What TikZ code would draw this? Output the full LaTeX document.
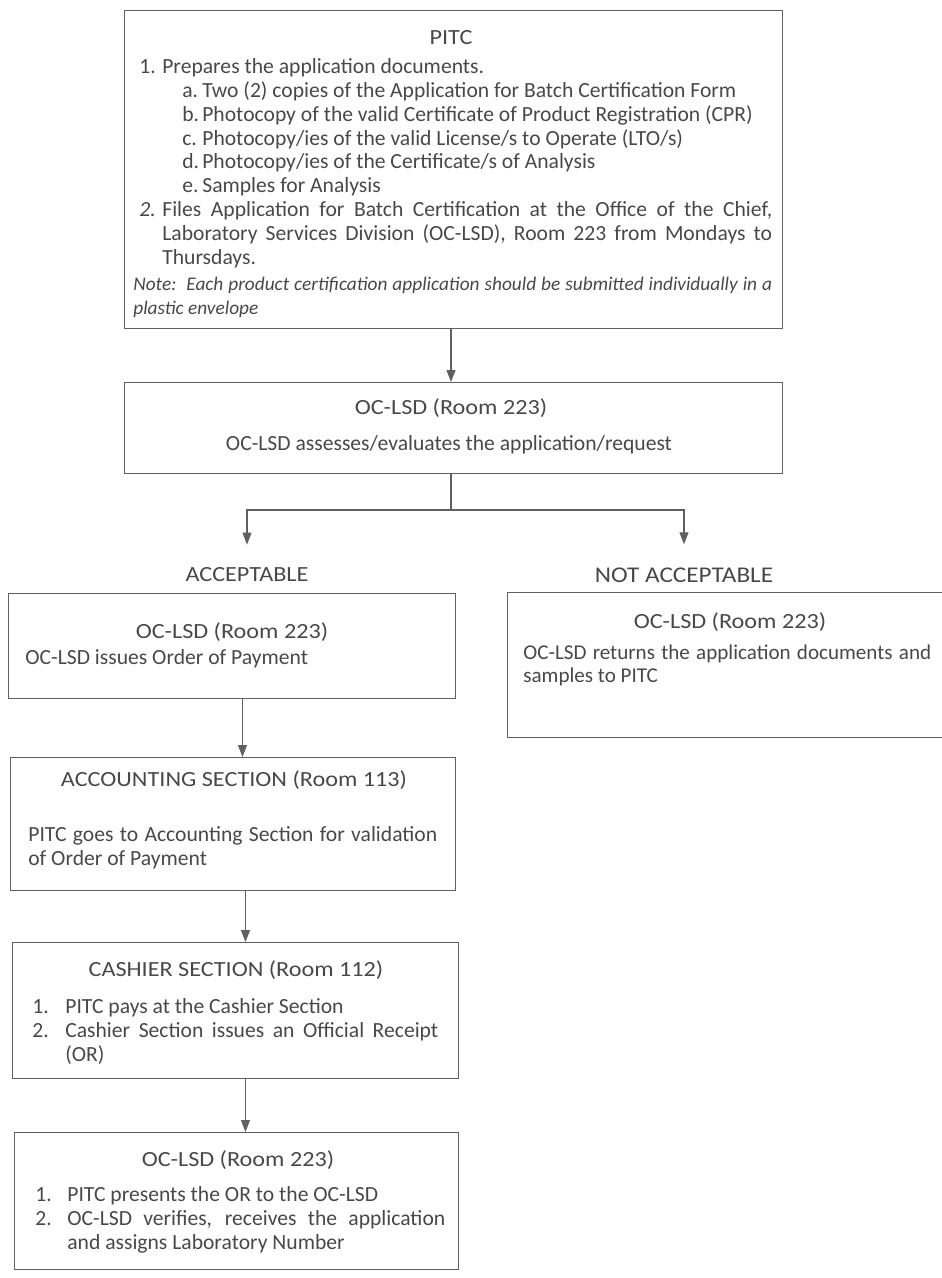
\documentclass[tikz,border=0pt]{standalone}
\usepackage{fontspec}
\setmainfont{Carlito}
\newfontfamily\wideface{Carlito}[FakeStretch=1.12]
\usetikzlibrary{arrows.meta,positioning}
\definecolor{boxline}{HTML}{606060}
\definecolor{inkgrey}{HTML}{484848}
\hyphenpenalty=10000
\exhyphenpenalty=10000
\newcommand{\flowfont}{\fontsize{12.3}{13.6}\selectfont}
% numbered line: left skip, hang width, label, text
\newcommand{\numitem}[4]{\leftskip=#1\hangindent=#2\hangafter=1\noindent\hbox to #2{#3\hfil}#4\par}

\begin{document}
\begin{tikzpicture}[x=0.02cm,y=-0.02cm,
    flowbox/.style={draw=boxline,line width=0.6pt,rectangle,anchor=north west,inner sep=0pt},
    headtext/.style={text=inkgrey,font=\wideface\flowfont,inner sep=0pt},
    bodytext/.style={text=inkgrey,font=\flowfont,inner sep=0pt,anchor=north west,align=justify},
    flowline/.style={draw=boxline,line width=0.6pt},
    flowarrow/.style={flowline,-{Triangle[length=0.24cm,width=0.18cm]}}]
  \useasboundingbox (0,0) rectangle (942,1278);

  % application step
  \node[flowbox,minimum width=13.16cm,minimum height=6.36cm] (pitc) at (124,10) {};
  \node[headtext] (pitc-t) at (451,38) {PITC};
  \node[bodytext,text width=12.78cm] (pitc-b) at (133,58) {%
    \numitem{0.12cm}{0.46cm}{1.}{Prepares the application documents.}
    \numitem{0.98cm}{0.4cm}{a.}{Two (2) copies of the Application for Batch Certification Form}
    \numitem{0.98cm}{0.4cm}{b.}{Photocopy of the valid Certificate of Product Registration (CPR)}
    \numitem{0.98cm}{0.4cm}{c.}{Photocopy/ies of the valid License/s to Operate (LTO/s)}
    \numitem{0.98cm}{0.4cm}{d.}{Photocopy/ies of the Certificate/s of Analysis}
    \numitem{0.98cm}{0.4cm}{e.}{Samples for Analysis}
    \numitem{0.12cm}{0.46cm}{\textit{2.}}{Files Application for Batch Certification at the Office of the Chief, Laboratory Services Division (OC-LSD), Room 223 from Mondays to Thursdays.}
    \vspace{1pt}\leftskip=0pt\noindent{\fontsize{11}{13.6}\selectfont\textit{Note:\ \ Each product certification application should be submitted individually in a plastic envelope}}\par};

  % assessment
  \node[flowbox,minimum width=13.16cm,minimum height=1.82cm] (assess) at (124,382) {};
  \node[headtext] (assess-t) at (451,408) {OC-LSD (Room 223)};
  \node[headtext,font=\flowfont] (assess-b) at (449,445) {OC-LSD assesses/evaluates the application/request};

  \node[headtext] (acc) at (247,575) {ACCEPTABLE};
  \node[headtext,font=\wideface\fontsize{12.8}{13.6}\selectfont] (nacc) at (684,575) {NOT ACCEPTABLE};

  % acceptable branch
  \node[flowbox,minimum width=8.94cm,minimum height=2.1cm] (issue) at (8,593) {};
  \node[headtext] (issue-t) at (232,632) {OC-LSD (Room 223)};
  \node[bodytext,text width=8.5cm] (issue-b) at (25,649) {OC-LSD issues Order of Payment};

  % not acceptable branch
  \node[flowbox,minimum width=8.7cm,minimum height=2.9cm] (return) at (507,592) {};
  \node[headtext] (return-t) at (730,622) {OC-LSD (Room 223)};
  \node[bodytext,text width=8.16cm,font=\fontsize{12}{13.6}\selectfont] (return-b) at (523,644) {OC-LSD returns the application documents and samples to PITC};

  \node[flowbox,minimum width=8.9cm,minimum height=2.66cm] (account) at (10,757) {};
  \node[headtext] (account-t) at (234,780) {ACCOUNTING SECTION (Room 113)};
  \node[bodytext,text width=8.18cm] (account-b) at (28,826) {PITC goes to Accounting Section for validation of Order of Payment};

  \node[flowbox,minimum width=8.92cm,minimum height=2.72cm] (cashier) at (12,942) {};
  \node[headtext] (cashier-t) at (236,970) {CASHIER SECTION (Room 112)};
  \node[bodytext,text width=8.12cm] (cashier-b) at (32,998) {%
    \numitem{0cm}{0.66cm}{1.}{PITC pays at the Cashier Section}
    \numitem{0cm}{0.66cm}{2.}{Cashier Section issues an Official Receipt (OR)}};

  \node[flowbox,minimum width=8.88cm,minimum height=2.74cm] (final) at (14,1132) {};
  \node[headtext] (final-t) at (238,1160) {OC-LSD (Room 223)};
  \node[bodytext,text width=8.2cm] (final-b) at (35,1186) {%
    \numitem{0cm}{0.64cm}{1.}{PITC presents the OR to the OC-LSD}
    \numitem{0cm}{0.64cm}{2.}{OC-LSD verifies, receives the application and assigns Laboratory Number}};

  % connectors
  \coordinate (fork) at (451,510);
  \draw[flowarrow] (assess-t |- pitc.south) -- (assess-t |- assess.north);
  \draw[flowline] (assess-t |- assess.south) -- (fork);
  \draw[flowarrow,shorten >=0.46cm] (fork) -| (acc);
  \draw[flowarrow,shorten >=0.46cm] (fork) -| (nacc);
  \draw[flowarrow] ([xshift=0.21cm]issue.south) -- ([xshift=0.21cm]issue.south |- account.north);
  \draw[flowarrow] ([xshift=0.25cm]account.south) -- ([xshift=0.25cm]account.south |- cashier.north);
  \draw[flowarrow] ([xshift=0.2cm]cashier.south) -- ([xshift=0.2cm]cashier.south |- final.north);
\end{tikzpicture}
\end{document}
